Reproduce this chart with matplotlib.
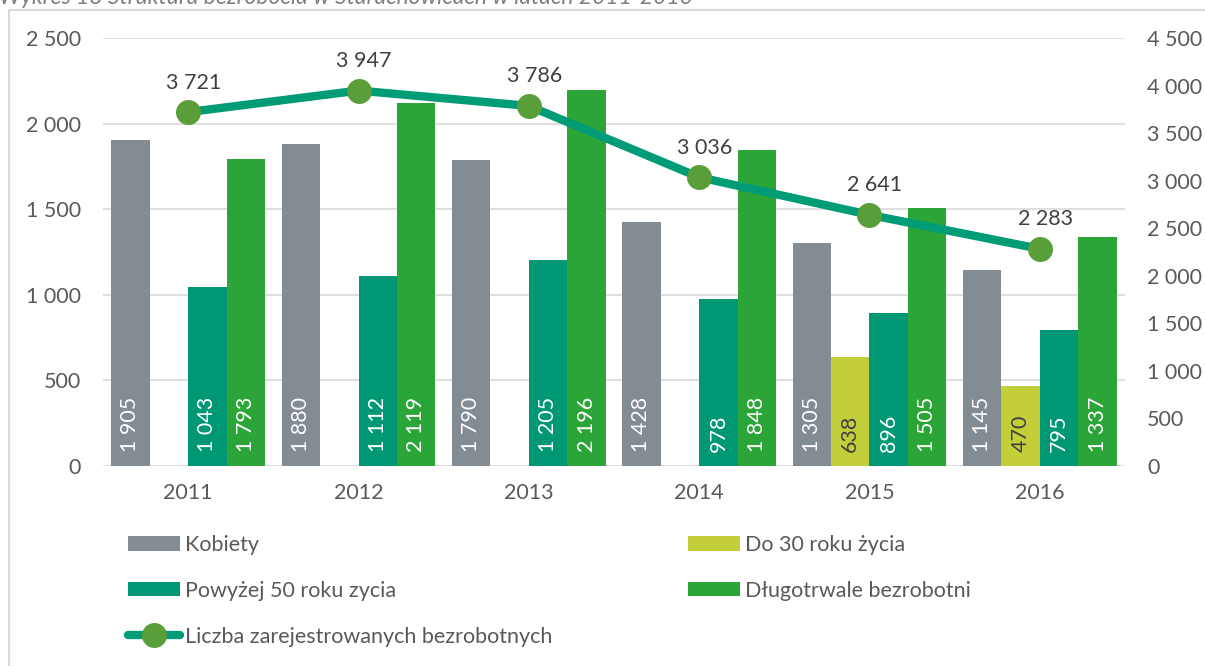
import numpy as np
import matplotlib.pyplot as plt
from matplotlib.lines import Line2D
from matplotlib.ticker import FuncFormatter

plt.rcParams['font.family'] = ['Lato', 'DejaVu Sans']

lata = ['2011', '2012', '2013', '2014', '2015', '2016']
kobiety = [1905, 1880, 1790, 1428, 1305, 1145]
do30 = [np.nan, np.nan, np.nan, np.nan, 638, 470]
powyzej50 = [1043, 1112, 1205, 978, 896, 795]
dlugotrwale = [1793, 2119, 2196, 1848, 1505, 1337]
zarejestrowani = [3721, 3947, 3786, 3036, 2641, 2283]

serie = [
    ('Kobiety', kobiety, '#838B93', 'white'),
    ('Do 30 roku życia', do30, '#C2CE3A', '#404040'),
    ('Powyżej 50 roku zycia', powyzej50, '#009874', 'white'),
    ('Długotrwale bezrobotni', dlugotrwale, '#2CA538', 'white'),
]
FS = 15.5


def fmt(v, pos=None):
    return '{:,.0f}'.format(v).replace(',', ' ')


fig = plt.figure(figsize=(12.05, 6.66), dpi=100)
ax = fig.add_axes([103/1205, 200/666, 1022/1205, 428/666])
ax2 = ax.twinx()

x = np.arange(len(lata))
w = 0.226
uchwyty = {}
for i, (nazwa, vals, kol, kol_txt) in enumerate(serie):
    pos = x + (i - 1.5) * w
    b = ax.bar(pos, vals, w, color=kol, label=nazwa, zorder=2)
    uchwyty[nazwa] = b
    for xp, v in zip(pos, vals):
        if np.isnan(v):
            continue
        ax.annotate(fmt(v), (xp, 0), xytext=(0, 10), textcoords='offset points',
                    rotation=90, ha='center', va='bottom', color=kol_txt,
                    fontsize=FS, zorder=3)

ax.set_xlim(-0.5, len(lata) - 0.5)
ax.set_ylim(0, 2500)
ax.set_yticks(np.arange(0, 2501, 500))
ax.yaxis.set_major_formatter(FuncFormatter(fmt))
ax.set_xticks(x)
ax.set_xticklabels(lata)
ax.grid(axis='y', color='#D9D9D9', lw=1.2, zorder=0)
ax.set_axisbelow(True)
ax.tick_params(axis='y', length=0, pad=16, labelsize=FS, labelcolor='#595959')
ax.tick_params(axis='x', length=0, pad=12, labelsize=FS, labelcolor='#595959')
for s in ax.spines.values():
    s.set_visible(False)

linia, = ax2.plot(x, zarejestrowani, color='#009B77', lw=6, marker='o',
                  markersize=18, markerfacecolor='#5A9E3A', markeredgewidth=0,
                  solid_capstyle='round', zorder=5,
                  label='Liczba zarejestrowanych bezrobotnych')
for xp, v in zip(x, zarejestrowani):
    ax2.annotate(fmt(v), (xp, v), xytext=(4, 14), textcoords='offset points',
                 ha='center', va='bottom', color='#404040', fontsize=FS)
ax2.set_ylim(0, 4500)
ax2.set_yticks(np.arange(0, 4501, 500))
ax2.yaxis.set_major_formatter(FuncFormatter(fmt))
ax2.tick_params(axis='y', length=0, pad=16, labelsize=FS, labelcolor='#595959')
for s in ax2.spines.values():
    s.set_visible(False)

wspolne = dict(frameon=False, fontsize=FS, handlelength=2.4, handleheight=0.65,
               handletextpad=0.25, labelspacing=1.2, borderpad=0, borderaxespad=0)
for t in fig.legend([uchwyty['Kobiety'], uchwyty['Powyżej 50 roku zycia'], linia],
                    ['Kobiety', 'Powyżej 50 roku zycia', 'Liczba zarejestrowanych bezrobotnych'],
                    loc='upper left', bbox_to_anchor=(128/1205, 1 - 535/666),
                    **wspolne).get_texts():
    t.set_color('#595959')
for t in fig.legend([uchwyty['Do 30 roku życia'], uchwyty['Długotrwale bezrobotni']],
                    ['Do 30 roku życia', 'Długotrwale bezrobotni'],
                    loc='upper left', bbox_to_anchor=(688/1205, 1 - 535/666),
                    **wspolne).get_texts():
    t.set_color('#595959')

# ramka wykresu i ucięty tytuł
fig.add_artist(Line2D([9/1205, 9/1205, 1], [0, 1 - 10/666, 1 - 10/666],
                      color='#D9D9D9', lw=1.5))
fig.text(-0.001, 1 - 4/666, 'Wykres 18 Struktura bezrobocia w Starachowicach w latach 2011-2016',
         style='italic', color='#7F7F7F', fontsize=16.5, va='baseline')

fig.savefig('out.png', dpi=100)
